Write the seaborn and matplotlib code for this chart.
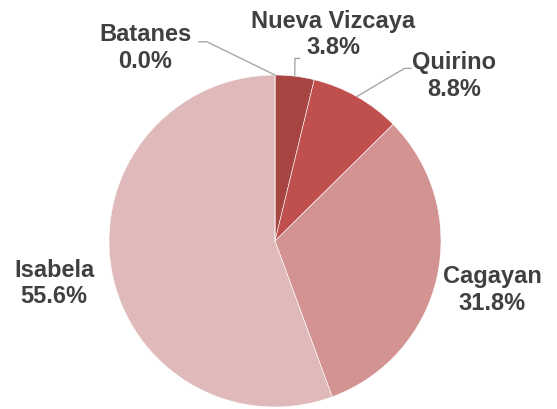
import numpy as np
import matplotlib
matplotlib.use("Agg")
import matplotlib.pyplot as plt
import seaborn as sns

# data (clockwise from 12 o'clock)
provinces = ['Nueva Vizcaya', 'Quirino', 'Cagayan', 'Isabela', 'Batanes']
shares = [3.8, 8.8, 31.8, 55.6, 0.0]
colors = ['#A64542', '#C0504D', '#D39392', '#E0BABA', '#B5B5B5']

# label placement (data units, pie radius = 1) and leader elbows
label_pos = {
    'Nueva Vizcaya': (0.35, 1.25),
    'Quirino': (1.08, 1.00),
    'Cagayan': (1.31, -0.29),
    'Isabela': (-1.33, -0.25),
    'Batanes': (-0.78, 1.17),
}
leaders = {
    'Nueva Vizcaya': [(0.12, 1.10), (0.15, 1.10)],
    'Quirino': [(0.78, 1.04), (0.82, 1.04)],
    'Batanes': [(-0.41, 1.20), (-0.46, 1.20)],
}

sns.set_theme(style="white")
plt.rcParams['font.family'] = ['Liberation Sans', 'DejaVu Sans']

fig = plt.figure(figsize=(5.57, 4.10), dpi=100)
cx, cy, r = 275, 168, 166
ax = fig.add_axes([(cx - r) / 557, (cy - r) / 410, 2 * r / 557, 2 * r / 410])

wedges, _ = ax.pie(shares, colors=colors, startangle=90, counterclock=False,
                   radius=1, wedgeprops=dict(edgecolor='white', linewidth=0.4))
ax.set_xlim(-1, 1)
ax.set_ylim(-1, 1)
ax.axis('off')

start = 0.0
total = sum(shares)
for name, val in zip(provinces, shares):
    mid = (start + val / 2) / total * 2 * np.pi
    start += val
    lx, ly = label_pos[name]
    ax.text(lx, ly, f"{name}\n{val:.1f}%", ha='center', va='center',
            fontsize=17, fontweight='bold', color='#404040', linespacing=1.2)
    if name in leaders:
        ex, ey = np.sin(mid), np.cos(mid)
        pts = [(ex, ey)] + leaders[name]
        xs, ys = zip(*pts)
        ax.plot(xs, ys, color='#A6A6A6', lw=1, clip_on=False)

fig.savefig('out.png', dpi=100)
